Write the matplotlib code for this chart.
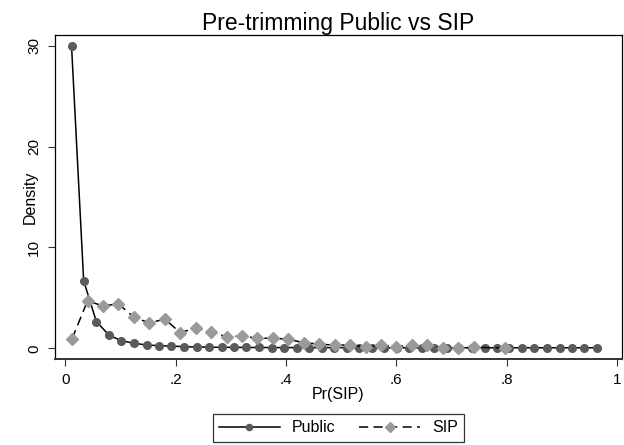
import matplotlib.pyplot as plt

plt.rcParams['font.family'] = ['Liberation Sans', 'DejaVu Sans']

# Bin midpoints and densities
public_x = [0.011, 0.033, 0.056, 0.079, 0.101, 0.124, 0.147, 0.169, 0.192, 0.215,
            0.238, 0.260, 0.283, 0.306, 0.328, 0.351, 0.374, 0.396, 0.419, 0.442,
            0.465, 0.487, 0.510, 0.533, 0.555, 0.578, 0.601, 0.623, 0.646, 0.669,
            0.692, 0.714, 0.737, 0.760, 0.782, 0.805, 0.828, 0.850, 0.873, 0.896,
            0.919, 0.941, 0.964]
public_y = [30.0, 6.7, 2.65, 1.3, 0.76, 0.5, 0.33, 0.26, 0.22, 0.16,
            0.13, 0.11, 0.1, 0.09, 0.08, 0.08, 0.07, 0.07, 0.07, 0.06,
            0.06, 0.06, 0.06, 0.05, 0.05, 0.05, 0.05, 0.05, 0.05, 0.05,
            0.05, 0.05, 0.05, 0.05, 0.05, 0.05, 0.05, 0.05, 0.05, 0.05,
            0.05, 0.05, 0.05]

sip_x = [0.012, 0.040, 0.068, 0.096, 0.124, 0.152, 0.180, 0.208, 0.236, 0.264,
         0.292, 0.320, 0.348, 0.376, 0.404, 0.432, 0.460, 0.488, 0.516, 0.544,
         0.572, 0.600, 0.628, 0.656, 0.684, 0.712, 0.740, 0.796]
sip_y = [0.95, 4.7, 4.2, 4.4, 3.1, 2.5, 2.9, 1.55, 2.0, 1.6,
         1.15, 1.2, 1.0, 1.0, 0.9, 0.55, 0.42, 0.3, 0.33, 0.13,
         0.3, 0.17, 0.3, 0.3, 0.03, 0.03, 0.1, 0.03]

xticks = [0, 0.2, 0.4, 0.6, 0.8, 1.0]
xtick_labels = ['0', '.2', '.4', '.6', '.8', '1']
yticks = [0, 10, 20, 30]

fig = plt.figure(figsize=(6.24, 4.45), dpi=100)
ax = fig.add_axes([0.0881, 0.1933, 0.9087, 0.728])

ax.plot(public_x, public_y, color='black', lw=1.1, marker='o', markersize=5.5,
        markerfacecolor='#5a5a5a', markeredgecolor='#5a5a5a', label='Public')
ax.plot(sip_x, sip_y, color='black', lw=1.1, ls=(0, (6, 3.5)), marker='D', markersize=6,
        markerfacecolor='#9a9a9a', markeredgecolor='#9a9a9a', label='SIP')

ax.set_xlim(-0.019, 1.009)
ax.set_ylim(-1.06, 31.05)
ax.set_xticks(xticks)
ax.set_xticklabels(xtick_labels)
ax.set_yticks(yticks)
ax.tick_params(axis='both', labelsize=11, length=5, width=0.8, pad=5, color='#333333')
for lab in ax.get_yticklabels():
    lab.set_rotation(90)
    lab.set_va('center')
for s in ax.spines.values():
    s.set_linewidth(0.9)
ax.spines['bottom'].set_linewidth(1.4)
ax.spines['bottom'].set_color('#333333')

ax.set_xlabel('Pr(SIP)', fontsize=11.5, labelpad=0)
ax.set_ylabel('Density', fontsize=11.5, labelpad=-8)
ax.set_title('Pre-trimming Public vs SIP', fontsize=16.5, pad=1.5)

leg = fig.legend(loc='center', bbox_to_anchor=(0.5425, 0.039), ncol=2,
                 fontsize=11.5, frameon=True, fancybox=False, edgecolor='black',
                 handlelength=3.8, columnspacing=1.5, borderpad=0.4,
                 handletextpad=0.75, markerscale=0.8)
leg.get_frame().set_linewidth(0.9)

fig.savefig('out.png', dpi=100)
